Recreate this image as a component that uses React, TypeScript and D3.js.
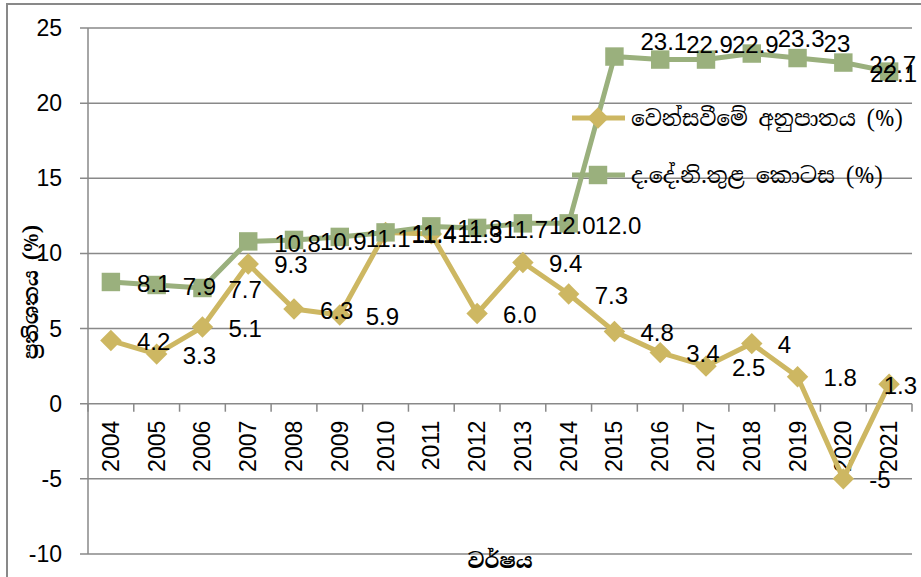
import React, { useRef, useEffect } from 'react';
import * as d3 from 'd3';

// years on the category axis
const years = ['2004', '2005', '2006', '2007', '2008', '2009', '2010', '2011', '2012',
  '2013', '2014', '2015', '2016', '2017', '2018', '2019', '2020', '2021'];

// වෙන්සවීමේ අනුපාතය (%)
const ratioName = 'වෙන්සවීමේ අනුපාතය (%)';
const ratioValues = [4.2, 3.3, 5.1, 9.3, 6.3, 5.9, 11.4, 11.3, 6.0, 9.4, 7.3, 4.8, 3.4, 2.5, 4, 1.8, -5, 1.3];
const ratioLabels = ['4.2', '3.3', '5.1', '9.3', '6.3', '5.9', '11.4', '11.3', '6.0', '9.4', '7.3',
  '4.8', '3.4', '2.5', '4', '1.8', '-5', '1.3'];

// ද.දේ.නි.තුළ කොටස (%)
const shareName = 'ද.දේ.නි.තුළ කොටස (%)';
const shareValues = [8.1, 7.9, 7.7, 10.8, 10.9, 11.1, 11.4, 11.8, 11.7, 12.0, 12.0, 23.1, 22.9, 22.9, 23.3, 23, 22.7, 22.1];
const shareLabels = ['8.1', '7.9', '7.7', '10.8', '10.9', '11.1', '11.4', '11.8', '11.7', '12.0', '12.0',
  '23.1', '22.9', '22.9', '23.3', '23', '22.7', '22.1'];

const yTicks = [-10, -5, 0, 5, 10, 15, 20, 25];

const yTitle = 'ප්‍රතිශතය (%)';
const xTitle = 'වර්ෂය';

const GOLD = '#CDB762';
const GREEN = '#9AB07D';
const GRID = '#898989';
const NUM_FONT = '"Liberation Sans", Arial, sans-serif';
const SIN_FONT = '"Iskoola Pota", "Noto Serif Sinhala", "Noto Sans Sinhala", serif';

const App = () => {
  const svgRef = useRef<SVGSVGElement>(null);

  useEffect(() => {
    const width = 921;
    const height = 577;
    const svg = d3.select(svgRef.current);
    svg.selectAll('*').remove();

    const x = d3.scaleBand().domain(years).range([88, 912]);
    const y = d3.scaleLinear().domain([-10, 25]).range([554, 28]);
    const cx = (d: string) => (x(d) as number) + x.bandwidth() / 2;

    // outer frame
    svg.append('rect')
      .attr('x', 7).attr('y', 4)
      .attr('width', width + 20).attr('height', height + 20)
      .attr('fill', 'white')
      .attr('stroke', GRID).attr('stroke-width', 2);

    // gridlines + y tick labels
    const yg = svg.append('g');
    yg.selectAll('line')
      .data(yTicks)
      .join('line')
      .attr('x1', 80).attr('x2', 912)
      .attr('y1', d => y(d)).attr('y2', d => y(d))
      .attr('stroke', GRID).attr('stroke-width', 1.5);
    yg.selectAll('text')
      .data(yTicks)
      .join('text')
      .attr('x', 62).attr('y', d => y(d))
      .attr('text-anchor', 'end')
      .attr('dominant-baseline', 'central')
      .attr('font-family', NUM_FONT).attr('font-size', 23)
      .text(d => d);

    // vertical axis line
    svg.append('line')
      .attr('x1', 88).attr('x2', 88)
      .attr('y1', y(25)).attr('y2', y(-10))
      .attr('stroke', GRID).attr('stroke-width', 1.5);

    // category axis at zero with ticks at boundaries
    const y0 = y(0);
    const bounds = years.map(d => x(d) as number).concat([x.range()[1]]);
    svg.append('g').selectAll('line')
      .data(bounds)
      .join('line')
      .attr('x1', d => d).attr('x2', d => d)
      .attr('y1', y0).attr('y2', y0 + 8)
      .attr('stroke', GRID).attr('stroke-width', 1.5);

    svg.append('g').selectAll('text')
      .data(years)
      .join('text')
      .attr('transform', d => `translate(${cx(d)},${y0 + 17}) rotate(-90)`)
      .attr('text-anchor', 'end')
      .attr('dominant-baseline', 'central')
      .attr('font-family', NUM_FONT).attr('font-size', 23)
      .text(d => d);

    // series lines + markers
    const line = d3.line<number>()
      .x((_, i) => cx(years[i]))
      .y(d => y(d));

    svg.append('path')
      .attr('d', line(ratioValues))
      .attr('fill', 'none').attr('stroke', GOLD).attr('stroke-width', 5)
      .attr('stroke-linejoin', 'round');
    svg.append('g').selectAll('path')
      .data(ratioValues)
      .join('path')
      .attr('transform', (d, i) => `translate(${cx(years[i])},${y(d)}) rotate(45)`)
      .attr('d', d3.symbol().type(d3.symbolSquare).size(230))
      .attr('fill', GOLD);

    svg.append('path')
      .attr('d', line(shareValues))
      .attr('fill', 'none').attr('stroke', GREEN).attr('stroke-width', 5)
      .attr('stroke-linejoin', 'round');
    svg.append('g').selectAll('path')
      .data(shareValues)
      .join('path')
      .attr('transform', (d, i) => `translate(${cx(years[i])},${y(d)})`)
      .attr('d', d3.symbol().type(d3.symbolSquare).size(340))
      .attr('fill', GREEN);

    // data labels, to the right of each point
    const last = years.length - 1;
    const drawLabels = (values: number[], labels: string[], lift: (v: number, i: number) => number) => {
      svg.append('g').selectAll('text')
        .data(values)
        .join('text')
        .attr('x', (d, i) => i === last ? x.range()[1] + 5 : cx(years[i]) + 26)
        .attr('y', (d, i) => y(d) + lift(d, i))
        .attr('text-anchor', (d, i) => i === last ? 'end' : 'start')
        .attr('dominant-baseline', 'central')
        .attr('font-family', NUM_FONT).attr('font-size', 24)
        .attr('fill', 'black')
        .text((d, i) => labels[i]);
    };
    drawLabels(ratioValues, ratioLabels, () => 1);
    drawLabels(shareValues, shareLabels, (v, i) => (v > 22.8 && i < last - 1 ? -15 : 2));

    // legend
    const legend = [
      { name: ratioName, color: GOLD, size: 230, rot: 45, len: 272 },
      { name: shareName, color: GREEN, size: 340, rot: 0, len: 252 },
    ];
    const lg = svg.append('g');
    legend.forEach((item, k) => {
      const ly = 118 + k * 57;
      lg.append('line')
        .attr('x1', 572).attr('x2', 625)
        .attr('y1', ly).attr('y2', ly)
        .attr('stroke', item.color).attr('stroke-width', 5);
      lg.append('path')
        .attr('transform', `translate(598,${ly}) rotate(${item.rot})`)
        .attr('d', d3.symbol().type(d3.symbolSquare).size(item.size))
        .attr('fill', item.color);
      lg.append('text')
        .attr('x', 631).attr('y', ly)
        .attr('dominant-baseline', 'central')
        .attr('font-family', SIN_FONT).attr('font-size', 22)
        .attr('textLength', item.len)
        .attr('lengthAdjust', 'spacingAndGlyphs')
        .text(item.name);
    });

    // axis titles
    svg.append('text')
      .attr('transform', 'translate(31,292) rotate(-90)')
      .attr('text-anchor', 'middle')
      .attr('dominant-baseline', 'central')
      .attr('font-family', SIN_FONT).attr('font-size', 20).attr('font-weight', 'bold')
      .text(yTitle);
    svg.append('text')
      .attr('x', 500).attr('y', 560)
      .attr('text-anchor', 'middle')
      .attr('dominant-baseline', 'central')
      .attr('font-family', SIN_FONT).attr('font-size', 21).attr('font-weight', 'bold')
      .text(xTitle);
  }, []);

  return (
    <svg ref={svgRef} width={921} height={577}
      style={{ position: 'absolute', left: 0, top: 0, display: 'block' }} />
  );
};

export default App;
